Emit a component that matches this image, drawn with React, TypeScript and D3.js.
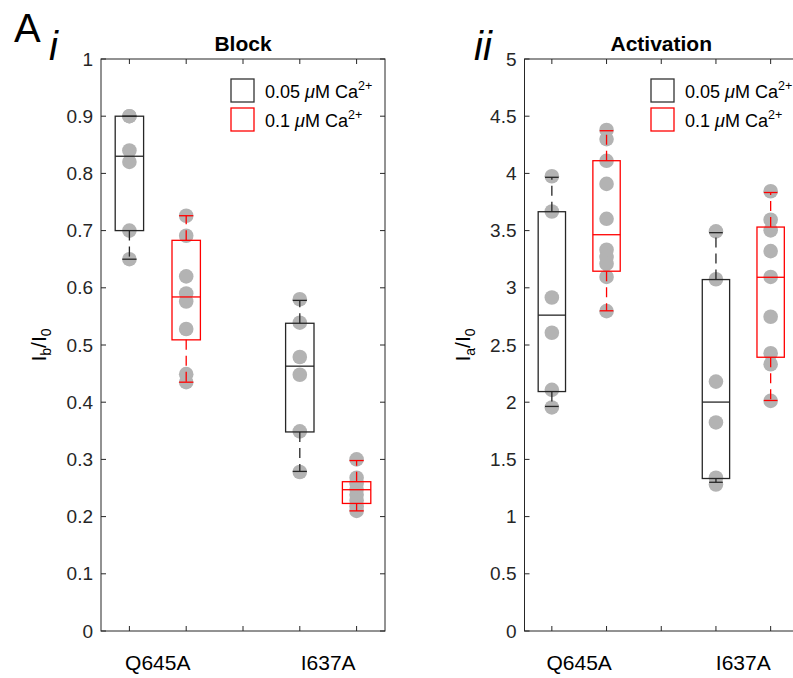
import * as d3 from 'd3';

// x positions: 1,2 = Q645A (0.05, 0.1 µM); 4,5 = I637A
const categories = ['Q645A', 'I637A'];
const categoryPos = [1.5, 4.5];
const groupPos = [1, 2, 4, 5];
const groupColor = ['#262626', '#ff0000', '#262626', '#ff0000'];
const legendLabels = ['0.05', '0.1'];

// Block (Ib/I0)
const blockPoints = [
  [0.9, 0.9, 0.84, 0.82, 0.7, 0.65],
  [0.726, 0.691, 0.62, 0.59, 0.576, 0.528, 0.449, 0.435],
  [0.58, 0.539, 0.479, 0.448, 0.349, 0.278],
  [0.3, 0.268, 0.258, 0.248, 0.238, 0.228, 0.218, 0.21],
];
// [lower whisker, q1, median, q3, upper whisker]
const blockBoxes = [
  [0.65, 0.7, 0.83, 0.9, 0.9],
  [0.435, 0.509, 0.584, 0.683, 0.726],
  [0.279, 0.348, 0.463, 0.538, 0.578],
  [0.21, 0.223, 0.247, 0.261, 0.298],
];
const blockTicks = d3.range(0, 1.0001, 0.1);

// Activation (Ia/I0)
const actPoints = [
  [3.975, 3.667, 2.915, 2.607, 2.108, 1.954],
  [4.38, 4.3, 4.11, 3.908, 3.603, 3.333, 3.27, 3.21, 3.095, 2.796],
  [3.493, 3.075, 2.18, 1.823, 1.34, 1.28],
  [3.844, 3.595, 3.502, 3.321, 3.095, 2.747, 2.428, 2.332, 2.012],
];
const actBoxes = [
  [1.963, 2.093, 2.761, 3.665, 3.966],
  [2.799, 3.145, 3.464, 4.111, 4.373],
  [1.3, 1.333, 2.001, 3.072, 3.482],
  [2.015, 2.393, 3.092, 3.531, 3.833],
];
const actTicks = d3.range(0, 5.0001, 0.5);

const AXIS = '#262626';
const DOT = '#b3b3b3';
const FONT = 'Liberation Sans, Arial, sans-serif';

interface PanelProps {
  x0: number;
  x1: number;
  yMax: number;
  ticks: number[];
  title: string;
  sub: string;
  tag: string;
  tagX: number;
  points: number[][];
  boxes: number[][];
  legendX: number;
}

function Panel({ x0, x1, yMax, ticks, title, sub, tag, tagX, points, boxes, legendX }: PanelProps) {
  const top = 59;
  const bottom = 631;
  const x = d3.scaleLinear().domain([0.5, 5.5]).range([x0, x1]);
  const y = d3.scaleLinear().domain([0, yMax]).range([bottom, top]);
  const boxW = x(1.25) - x(1);
  const capW = x(1.125) - x(1);
  const tl = 5;
  const fmt = (v: number) => d3.format('')(+v.toFixed(2));

  return (
    <g fontFamily={FONT}>
      {/* dots */}
      {points.map((pts, i) =>
        pts.map((v, j) => (
          <circle key={`d${i}-${j}`} cx={x(groupPos[i])} cy={y(v)} r={7.3} fill={DOT} />
        )),
      )}
      {/* boxes */}
      {boxes.map((b, i) => {
        const cx = x(groupPos[i]);
        const c = groupColor[i];
        return (
          <g key={`b${i}`} stroke={c} strokeWidth={1.3} fill="none">
            <line x1={cx} x2={cx} y1={y(b[3])} y2={y(b[4])} strokeDasharray="10,6" />
            <line x1={cx} x2={cx} y1={y(b[1])} y2={y(b[0])} strokeDasharray="10,6" />
            <line x1={cx - capW} x2={cx + capW} y1={y(b[4])} y2={y(b[4])} />
            <line x1={cx - capW} x2={cx + capW} y1={y(b[0])} y2={y(b[0])} />
            <rect x={cx - boxW} y={y(b[3])} width={boxW * 2} height={y(b[1]) - y(b[3])} />
            <line x1={cx - boxW} x2={cx + boxW} y1={y(b[2])} y2={y(b[2])} />
          </g>
        );
      })}
      {/* axes box */}
      <rect x={x0} y={top} width={x1 - x0} height={bottom - top} fill="none" stroke={AXIS} strokeWidth={1} />
      {ticks.map((t) => (
        <g key={`yt${t}`}>
          <line x1={x0} x2={x0 + tl} y1={y(t)} y2={y(t)} stroke={AXIS} />
          <line x1={x1} x2={x1 - tl} y1={y(t)} y2={y(t)} stroke={AXIS} />
          <text x={x0 - 8} y={y(t)} dy="0.35em" textAnchor="end" fontSize={19} fill={AXIS}>
            {fmt(t)}
          </text>
        </g>
      ))}
      {[1, 2, 3, 4, 5].map((t) => (
        <g key={`xt${t}`}>
          <line x1={x(t)} x2={x(t)} y1={bottom} y2={bottom - tl} stroke={AXIS} />
          <line x1={x(t)} x2={x(t)} y1={top} y2={top + tl} stroke={AXIS} />
        </g>
      ))}
      {categories.map((c, i) => (
        <text key={c} x={x(categoryPos[i])} y={670} textAnchor="middle" fontSize={21} fill="#000">
          {c}
        </text>
      ))}
      {/* title */}
      <text x={(x0 + x1) / 2} y={51} textAnchor="middle" fontSize={21} fontWeight="bold" fill="#000">
        {title}
      </text>
      {/* y label */}
      <text
        transform={`translate(${x0 - 55},${(top + bottom) / 2}) rotate(-90)`}
        textAnchor="middle"
        fontSize={21}
        fill="#000"
      >
        I
        <tspan fontSize={14} dy={5}>
          {sub}
        </tspan>
        <tspan dy={-5}>/I</tspan>
        <tspan fontSize={14} dy={5}>
          0
        </tspan>
      </text>
      {/* panel tag */}
      <text x={tagX} y={60} fontSize={40} fontStyle="italic" fill="#000">
        {tag}
      </text>
      {/* legend */}
      {legendLabels.map((l, i) => (
        <g key={l}>
          <rect
            x={legendX}
            y={79 + i * 29}
            width={23}
            height={23}
            fill="none"
            stroke={i === 0 ? '#333' : '#ff0000'}
            strokeWidth={1.3}
          />
          <text x={legendX + 34} y={97.5 + i * 29} fontSize={18} fill="#000">
            {l} <tspan fontStyle="italic">μ</tspan>M Ca
            <tspan fontSize={12.5} dy={-8}>
              2+
            </tspan>
          </text>
        </g>
      ))}
    </g>
  );
}

export default function App() {
  return (
    <svg
      width={793}
      height={678}
      style={{ position: 'absolute', left: 0, top: 0, background: '#fff' }}
    >
      <rect width={793} height={678} fill="#fff" />
      <text x={14} y={42} fontSize={40} fontFamily={FONT} fill="#000">
        A
      </text>
      <Panel
        x0={101}
        x1={385}
        yMax={1}
        ticks={blockTicks}
        title="Block"
        sub="b"
        tag="i"
        tagX={49}
        points={blockPoints}
        boxes={blockBoxes}
        legendX={231}
      />
      <Panel
        x0={524.5}
        x1={798}
        yMax={5}
        ticks={actTicks}
        title="Activation"
        sub="a"
        tag="ii"
        tagX={474}
        points={actPoints}
        boxes={actBoxes}
        legendX={651}
      />
    </svg>
  );
}
